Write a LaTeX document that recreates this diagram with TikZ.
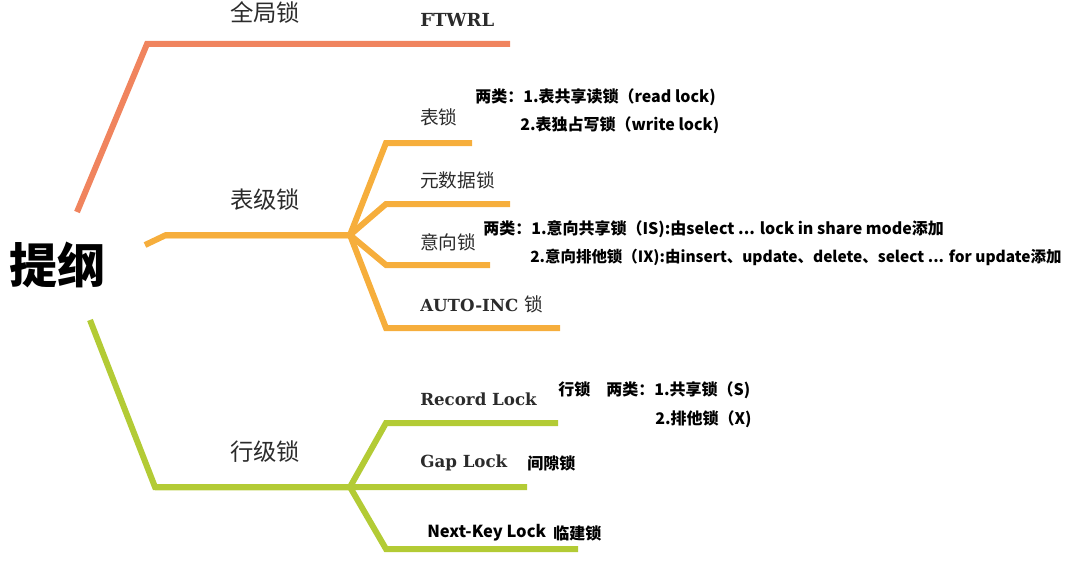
\documentclass[tikz,border=0pt]{standalone}
\usepackage{fontspec}
\setmainfont{Noto Sans CJK SC}
\newfontfamily\cjk{Noto Sans CJK SC}
\newfontfamily\slab{DejaVu Serif}
\usetikzlibrary{positioning}
\definecolor{globalc}{HTML}{F0845E}
\definecolor{tablec}{HTML}{F6AE3C}
\definecolor{rowc}{HTML}{B3CB35}
\definecolor{inkc}{HTML}{2B2B2B}
\tikzset{
  branch/.style={line width=4.5pt},
  head/.style={font=\fontsize{17.5}{20}\selectfont, text=inkc},
  leaf/.style={anchor=west, inner sep=0pt, font=\fontsize{14}{16}\selectfont, text=inkc},
  slableaf/.style={anchor=west, inner sep=0pt, font=\slab\bfseries\fontsize{12.5}{14}\selectfont, text=inkc},
  note/.style={anchor=west, inner sep=0pt, font=\bfseries\fontsize{12}{14}\selectfont}
}

\begin{document}
\begin{tikzpicture}[x=0.75pt, y=-0.75pt]
\useasboundingbox (0,0) rectangle (1077,560);
\node[font=\bfseries\fontsize{36}{42}\selectfont] (root) at (57,265) {提纲};

\coordinate (groot) at (77,212);
\coordinate (gbend) at (147,44);
\coordinate (gend) at (510,44);
\draw[branch, globalc] (groot) -- (gbend) -- (gend);
\node[head] (global) at (265,13) {全局锁};
\node[slableaf, font=\slab\bfseries\fontsize{13.5}{15}\selectfont] (ftwrl) at (420,20) {FTWRL};

\coordinate (troot) at (145,245);
\coordinate (tbend) at (166,235);
\coordinate (thub) at (350,235);
\coordinate (t1a) at (386,143);
\coordinate (t1b) at (472,143);
\coordinate (t2a) at (386,204);
\coordinate (t2b) at (510,204);
\coordinate (t3a) at (386,265);
\coordinate (t3b) at (490,265);
\coordinate (t4a) at (386,328);
\coordinate (t4b) at (560,328);
\draw[branch, tablec] (troot) -- (tbend) -- (thub);
\foreach \i in {1,...,4}
  \draw[branch, tablec] (tbend) -- (thub) -- (t\i a) -- (t\i b);
\node[head] (tablelvl) at (265,200) {表级锁};
\node[leaf] (tablock) at (420,117) {表锁};
\node[leaf] (meta) at (420,180) {元数据锁};
\node[leaf] (intent) at (420,242) {意向锁};
\node[slableaf] (autoinc) at (420,304) {AUTO-INC {\cjk\mdseries\fontsize{14}{16}\selectfont 锁}};
\node[note] (tbnote1) at (475,97) {两类：1.表共享读锁（read lock)};
\node[note] (tbnote2) at (520,125) {2.表独占写锁（write lock)};
\node[note] (itnote1) at (483,229) {两类：1.意向共享锁（IS):由select ... lock in share mode添加};
\node[note, font=\bfseries\fontsize{11.6}{14}\selectfont] (itnote2) at (530,257) {2.意向排他锁（IX):由insert、update、delete、select ... for update添加};

\coordinate (rroot) at (90,320);
\coordinate (rbend) at (155,487);
\coordinate (rhub) at (350,487);
\coordinate (r1a) at (386,423);
\coordinate (r1b) at (558,423);
\coordinate (r2b) at (527,487);
\coordinate (r3a) at (386,549);
\coordinate (r3b) at (578,549);
\draw[branch, rowc] (rroot) -- (rbend) -- (r2b);
\draw[branch, rowc] (rbend) -- (rhub) -- (r1a) -- (r1b);
\draw[branch, rowc] (rbend) -- (rhub) -- (r3a) -- (r3b);
\node[head] (rowlvl) at (265,452) {行级锁};
\node[slableaf] (record) at (420,399) {Record Lock};
\node[slableaf] (gap) at (420,463) {Gap Lock};
\node[note, font=\bfseries\fontsize{12.4}{14}\selectfont] (nextkey) at (427,533) {Next-Key Lock};
\node[note] (rnote1) at (558,390) {行锁\hspace{1em}两类：1.共享锁（S)};
\node[note] (rnote2) at (655,419) {2.排他锁（X)};
\node[note] (gapnote) at (527,463) {间隙锁};
\node[note] (nknote) at (553,533) {临建锁};
\end{tikzpicture}
\end{document}
